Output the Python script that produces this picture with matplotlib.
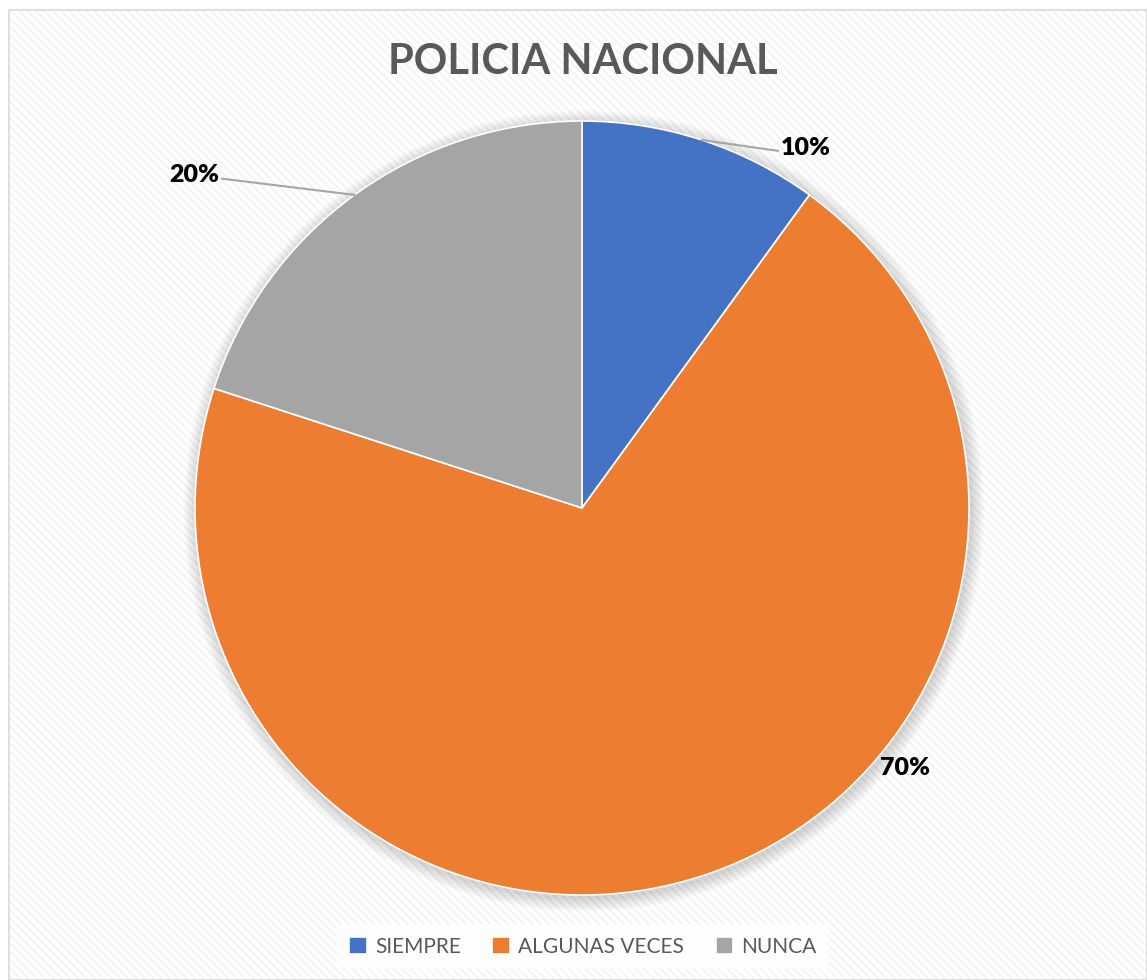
#!/usr/bin/env python3
"""Pie chart: POLICIA NACIONAL."""

import numpy as np
import matplotlib
matplotlib.use('Agg')
import matplotlib.pyplot as plt
from matplotlib.patches import Rectangle, Circle

categories = ['SIEMPRE', 'ALGUNAS VECES', 'NUNCA']
values = [10, 70, 20]
colors = ['#4472C4', '#ED7D31', '#A5A5A5']
title = 'POLICIA NACIONAL'

W, H = 1147, 980
fig = plt.figure(figsize=(W / 100, H / 100), dpi=100)
ax = fig.add_axes([0, 0, 1, 1])
ax.set_xlim(0, W)
ax.set_ylim(0, H)
ax.set_aspect('equal')
ax.axis('off')

plt.rcParams['hatch.linewidth'] = 1.2

# chart area with faint diagonal stripes
ax.add_patch(Rectangle((9, 0), W - 9, H - 10, facecolor='white',
                       edgecolor='#d9d9d9', lw=1.2, zorder=0))
ax.add_patch(Rectangle((10, 1), W - 11, H - 12, facecolor='none',
                       edgecolor='#f2f2f2', hatch='\\\\\\\\', lw=0, zorder=0.5))

cx, cy, r = 582, H - 508, 387

# soft shadow around the pie
for k in range(14):
    ax.add_patch(Circle((cx + 2, cy - 3), r + 14 - k, facecolor='#000000',
                        alpha=0.013, lw=0, zorder=1))

wedges, _ = ax.pie(values, colors=colors, startangle=90, counterclock=False,
                   center=(cx, cy), radius=r, frame=True,
                   wedgeprops=dict(linewidth=1.2, edgecolor='white'))
for w in wedges:
    w.set_zorder(2)
ax.set_xlim(0, W)
ax.set_ylim(0, H)
ax.axis('off')

# data labels (Excel best-fit placement)
label_pos = [(806, H - 148), (905, H - 768), (194, H - 175)]
leader = [True, False, True]
for w, v, pos, ld in zip(wedges, values, label_pos, leader):
    ang = np.deg2rad((w.theta1 + w.theta2) / 2)
    edge = (cx + r * np.cos(ang), cy + r * np.sin(ang))
    if ld:
        ax.annotate(f'{v}%', xy=edge, xytext=pos, ha='center', va='center',
                    fontsize=18, fontweight='heavy', family='Lato', color='black',
                    arrowprops=dict(arrowstyle='-', color='#a6a6a6', lw=1.5,
                                    shrinkA=0, shrinkB=0,
                                    relpos=(0 if pos[0] > cx else 1, 0.35)),
                    zorder=5)
    else:
        ax.text(pos[0], pos[1], f'{v}%', ha='center', va='center',
                fontsize=18, fontweight='heavy', family='Lato', color='black',
                zorder=5)

ax.text(583, H - 62, title, ha='center', va='center', fontsize=30,
        fontweight='bold', family='Lato', color='#595959', zorder=5)

leg = ax.legend(wedges, categories, loc='center', bbox_to_anchor=(583, 33),
                bbox_transform=ax.transData, ncol=3, frameon=True,
                prop=dict(family='Lato', size=15), labelcolor='#595959',
                handlelength=0.85, handleheight=0.85, handletextpad=0.4,
                columnspacing=1.5, borderpad=0.6, fancybox=False)
leg.get_frame().set_facecolor('white')
leg.get_frame().set_edgecolor('none')
leg.get_frame().set_alpha(0.85)
leg.set_zorder(6)

fig.savefig('out.png', dpi=100)
